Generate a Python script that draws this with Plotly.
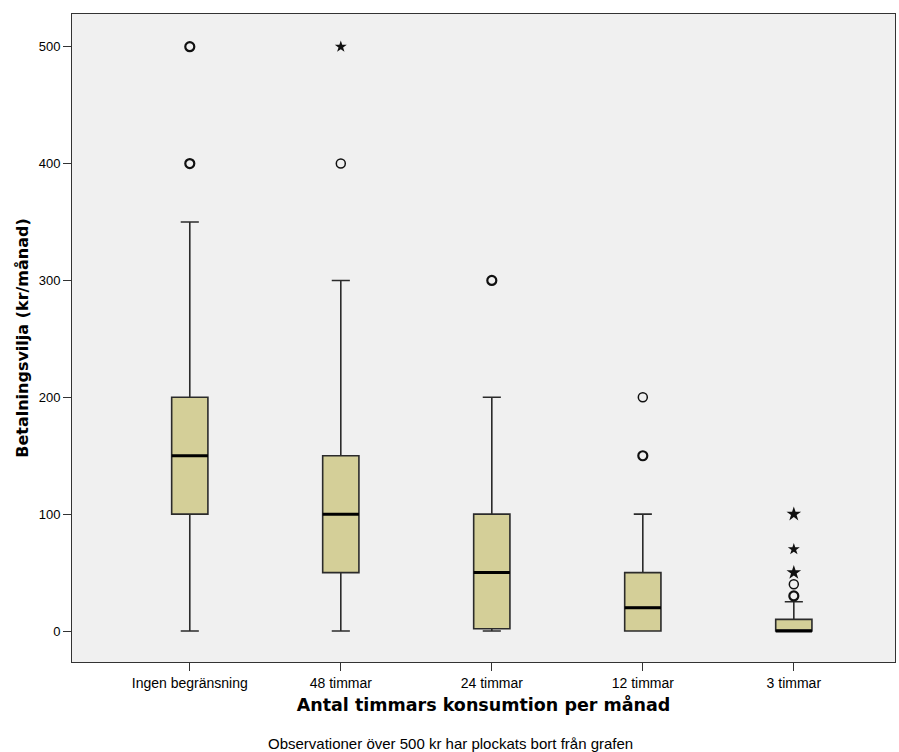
import plotly.graph_objects as go

# Groups on the x axis
categories = ["Ingen begränsning", "48 timmar", "24 timmar", "12 timmar", "3 timmar"]

# Box statistics per group (kr/månad)
q1 = [100, 50, 2, 0, 0]
median = [150, 100, 50, 20, 0]
q3 = [200, 150, 100, 50, 10]
lower_whisker = [0, 0, 0, 0, 0]
upper_whisker = [350, 300, 200, 100, 25]

# Outliers: (group index, value, repeated observations)
outliers_circle = [(0, 400, 2), (0, 500, 2), (1, 400, 1), (2, 300, 2),
                   (3, 150, 2), (3, 200, 1), (4, 30, 2), (4, 40, 1)]
# Extreme values
outliers_star = [(1, 500, 1), (4, 50, 2), (4, 70, 1), (4, 100, 2)]

BOX_W = 0.24
FILL = "#D4CF98"
EDGE = "#2b2b2b"

fig = go.Figure()

for i, cat in enumerate(categories):
    fig.add_trace(go.Box(
        x=[i], q1=[q1[i]], median=[median[i]], q3=[q3[i]],
        lowerfence=[lower_whisker[i]], upperfence=[upper_whisker[i]],
        width=BOX_W, whiskerwidth=0.5, boxpoints=False,
        fillcolor=FILL, line=dict(color=EDGE, width=1.6),
        showlegend=False, hoverinfo="skip",
    ))
    # heavy median bar
    fig.add_trace(go.Scatter(
        x=[i - BOX_W / 2, i + BOX_W / 2], y=[median[i], median[i]],
        mode="lines", line=dict(color="black", width=3),
        showlegend=False, hoverinfo="skip",
    ))

for g, v, n in outliers_circle:
    fig.add_trace(go.Scatter(
        x=[g], y=[v], mode="markers",
        marker=dict(symbol="circle-open", size=9, color="#111111",
                    line=dict(width=2.2 if n > 1 else 1.5)),
        showlegend=False, hoverinfo="skip",
    ))

for g, v, n in outliers_star:
    fig.add_trace(go.Scatter(
        x=[g], y=[v], mode="markers",
        marker=dict(symbol="star", size=11 if n > 1 else 9, color="#111111",
                    line=dict(width=0)),
        showlegend=False, hoverinfo="skip",
    ))

fig.update_layout(
    width=899, height=752,
    margin=dict(l=72, r=4, t=14, b=90),
    paper_bgcolor="white", plot_bgcolor="#F0F0F0",
    font=dict(family="Liberation Sans, Arial, sans-serif", color="black", size=13),
    xaxis=dict(
        range=[-0.78, 4.67], tickmode="array",
        tickvals=list(range(len(categories))), ticktext=categories,
        showgrid=False, zeroline=False,
        showline=True, mirror=True, linecolor="#333333", linewidth=1,
        ticks="outside", ticklen=8, tickcolor="#333333",
        tickfont=dict(size=14),
        title=dict(text="<b>Antal timmars konsumtion per månad</b>",
                   font=dict(family="DejaVu Sans, sans-serif", size=17.5),
                   standoff=8),
    ),
    yaxis=dict(
        range=[-26.5, 528], tickvals=[0, 100, 200, 300, 400, 500],
        showgrid=False, zeroline=False,
        showline=True, mirror=True, linecolor="#333333", linewidth=1,
        ticks="outside", ticklen=8, tickcolor="#333333",
        tickfont=dict(size=13),
        title=dict(text="<b>Betalningsvilja (kr/månad)</b>",
                   font=dict(family="DejaVu Sans, sans-serif", size=16),
                   standoff=6),
    ),
    annotations=[dict(
        text="Observationer över 500 kr har plockats bort från grafen",
        xref="paper", yref="paper", x=0.46, y=-0.125,
        xanchor="center", yanchor="middle", showarrow=False,
        font=dict(size=15),
    )],
)

fig.write_html("out.html")
